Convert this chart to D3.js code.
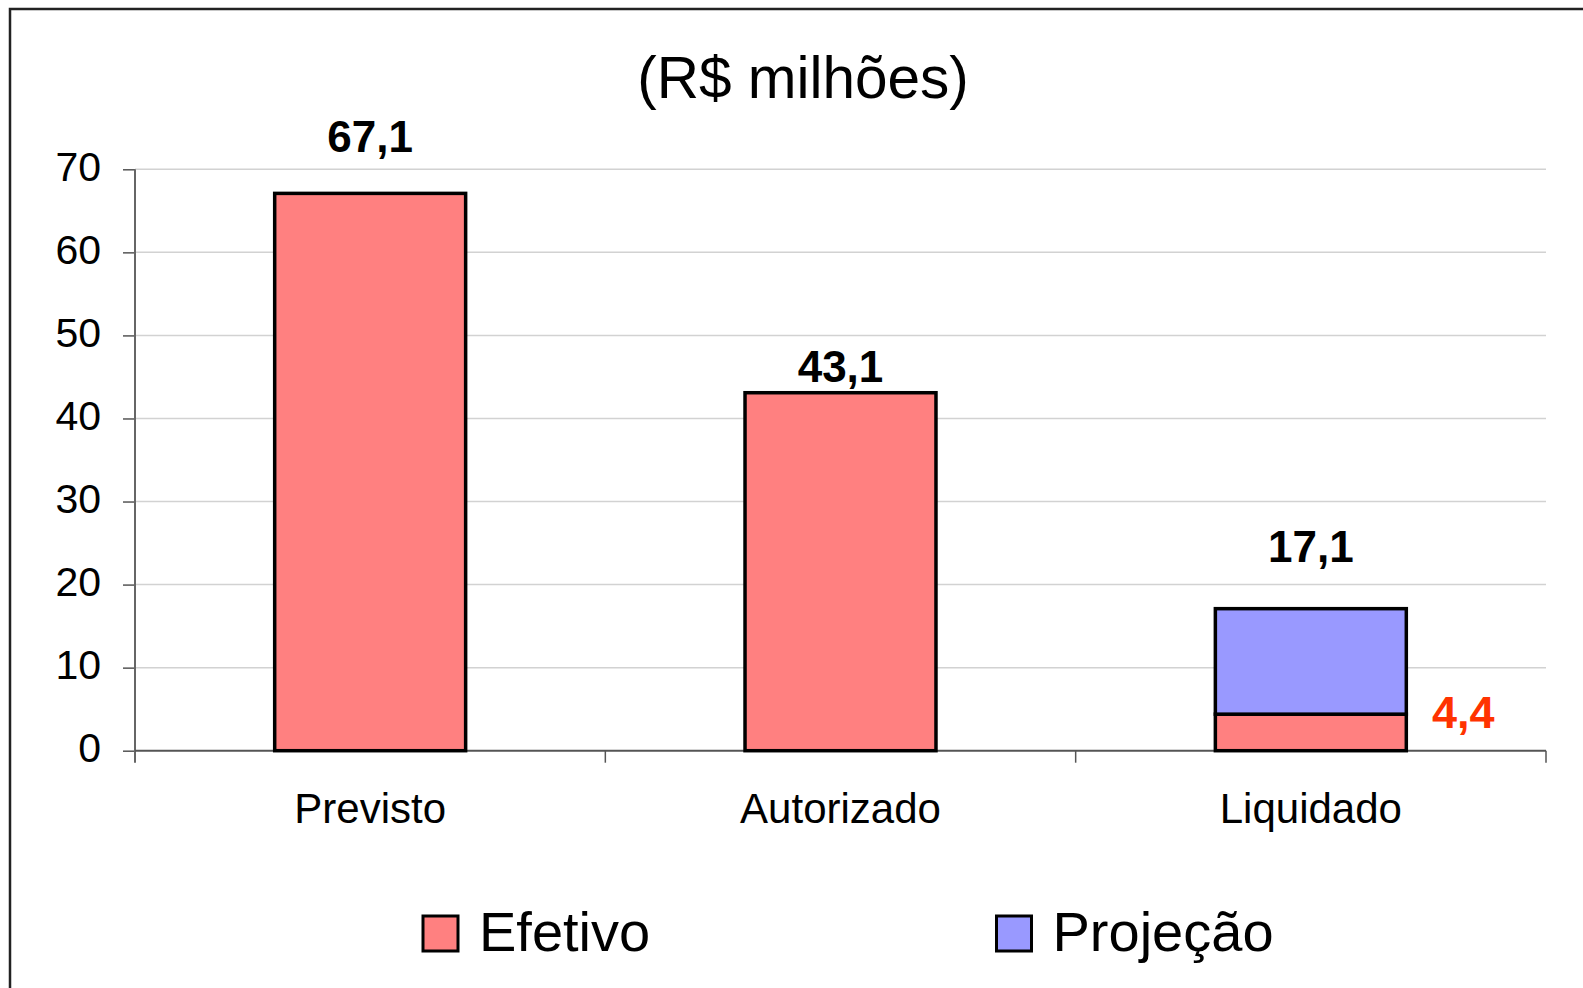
<!DOCTYPE html>
<html>
<head>
<meta charset="utf-8">
<script src="https://cdn.jsdelivr.net/npm/d3@7"></script>
<style>
  html, body { margin: 0; padding: 0; background: #fff; }
  svg { display: block; font-family: "Liberation Sans", Arial, sans-serif; }
</style>
</head>
<body>
<svg id="chart" width="1583" height="988"></svg>
<script>
// ---- data ----
const categories = ["Previsto", "Autorizado", "Liquidado"];
const efetivo = [67.1, 43.1, 4.4];
const projecao = [0, 0, 12.7];
const totalLabels = [67.1, 43.1, 17.1];
const yTicks = [0, 10, 20, 30, 40, 50, 60, 70];
const seriesNames = ["Efetivo", "Projeção"];
const titleText = "(R$ milhões)";

// ---- layout ----
const W = 1583, H = 988;
const plot = { left: 135, right: 1546, top: 169.3, bottom: 750.7 };
const labelOffsets = [-41.7, -11, -47]; // baseline offset above the bar top
const colors = { Efetivo: "#FF8080", "Projeção": "#9999FF" };

const fmt = d3.formatLocale({ decimal: ",", thousands: ".", grouping: [3], currency: ["R$ ", ""] }).format(".1f");

const svg = d3.select("#chart");

// outer frame
svg.append("rect")
  .attr("x", 10).attr("y", 9)
  .attr("width", W + 20).attr("height", H + 20)
  .attr("fill", "#fff").attr("stroke", "#222").attr("stroke-width", 2.5);

const x = d3.scaleBand().domain(categories)
  .range([plot.left, plot.right])
  .paddingInner(0.594).paddingOuter(0.297);
const y = d3.scaleLinear().domain([0, 70]).range([plot.bottom, plot.top]);

// gridlines
svg.append("g").selectAll("line").data(yTicks.filter(d => d > 0)).join("line")
  .attr("x1", plot.left).attr("x2", plot.right)
  .attr("y1", d => y(d)).attr("y2", d => y(d))
  .attr("stroke", "#d2d2d2").attr("stroke-width", 1.5);

// y axis
const yAxis = d3.axisLeft(y).tickValues(yTicks).tickSize(12).tickPadding(22).tickFormat(d3.format("d"));
const gy = svg.append("g").attr("transform", `translate(${plot.left},0)`).call(yAxis);
gy.select(".domain").remove();
gy.selectAll(".tick line").attr("stroke", "#555").attr("stroke-width", 1.5);
gy.selectAll(".tick text").attr("font-size", 41).attr("fill", "#000")
  .attr("font-family", "Liberation Sans, Arial, sans-serif").attr("dy", 11);
svg.append("line")
  .attr("x1", plot.left).attr("x2", plot.left)
  .attr("y1", y(70)).attr("y2", plot.bottom + 12)
  .attr("stroke", "#666").attr("stroke-width", 2);

// x axis
svg.append("line")
  .attr("x1", plot.left).attr("x2", plot.right)
  .attr("y1", plot.bottom).attr("y2", plot.bottom)
  .attr("stroke", "#555").attr("stroke-width", 2);
const boundaries = categories.map(c => x(c) - x.step() * x.paddingInner() / 2).slice(1).concat([plot.right]);
svg.append("g").selectAll("line").data(boundaries).join("line")
  .attr("x1", d => d).attr("x2", d => d)
  .attr("y1", plot.bottom).attr("y2", plot.bottom + 12)
  .attr("stroke", "#555").attr("stroke-width", 1.5);
svg.append("g").selectAll("text").data(categories).join("text")
  .attr("x", d => x(d) + x.bandwidth() / 2)
  .attr("y", 822.7)
  .attr("text-anchor", "middle")
  .attr("font-size", 42)
  .attr("fill", "#000")
  .text(d => d);

// stacked bars
const rows = categories.map((c, i) => ({ cat: c, "Efetivo": efetivo[i], "Projeção": projecao[i] }));
const stack = d3.stack().keys(seriesNames)(rows);
svg.append("g").selectAll("g").data(stack).join("g")
  .attr("fill", d => colors[d.key])
  .selectAll("rect").data(d => d.filter(v => v[1] - v[0] > 0)).join("rect")
  .attr("x", d => x(d.data.cat))
  .attr("width", x.bandwidth())
  .attr("y", d => y(d[1]))
  .attr("height", d => y(d[0]) - y(d[1]))
  .attr("stroke", "#000").attr("stroke-width", 3.5);

// total labels
svg.append("g").selectAll("text").data(categories).join("text")
  .attr("x", d => x(d) + x.bandwidth() / 2)
  .attr("y", (d, i) => y(totalLabels[i]) + labelOffsets[i])
  .attr("text-anchor", "middle")
  .attr("font-size", 44).attr("font-weight", "bold").attr("fill", "#000")
  .text((d, i) => fmt(totalLabels[i]));

// efetivo label for Liquidado
svg.append("text")
  .attr("x", x("Liquidado") + x.bandwidth() + 57)
  .attr("y", y(efetivo[2]) + 14)
  .attr("text-anchor", "middle")
  .attr("font-size", 45).attr("font-weight", "bold").attr("fill", "#FF3300")
  .text(fmt(efetivo[2]));

// title
svg.append("text")
  .attr("x", 803).attr("y", 98)
  .attr("text-anchor", "middle")
  .attr("font-size", 58.5).attr("fill", "#000")
  .text(titleText);

// legend
const legendX = [423, 996.5];
const lg = svg.append("g").selectAll("g").data(seriesNames).join("g")
  .attr("transform", (d, i) => `translate(${legendX[i]},916)`);
lg.append("rect").attr("width", 35).attr("height", 35)
  .attr("fill", d => colors[d]).attr("stroke", "#000").attr("stroke-width", 3);
lg.append("text").attr("x", 56).attr("y", 35)
  .attr("font-size", 56).attr("fill", "#000")
  .text(d => d);
</script>
</body>
</html>
